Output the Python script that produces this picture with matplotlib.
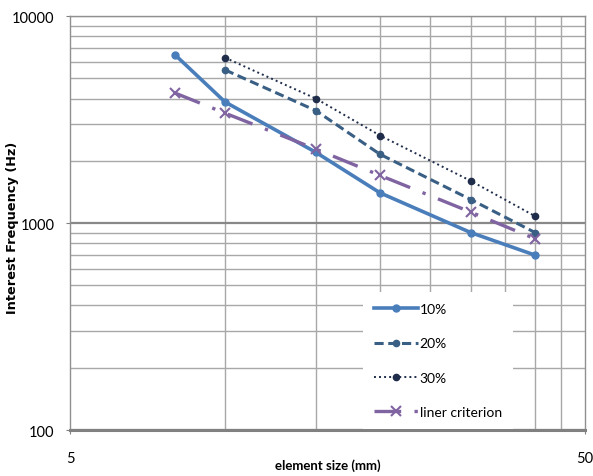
import numpy as np
import matplotlib
matplotlib.use("Agg")
import matplotlib.pyplot as plt
from matplotlib.ticker import FixedLocator, NullFormatter, LogLocator

# element size (mm)
size_a = [8, 10, 15, 20, 30, 40]
size_b = [10, 15, 20, 30, 40]

f10 = [6500, 3850, 2200, 1400, 900, 700]
f20 = [5500, 3500, 2150, 1300, 900]
f30 = [6300, 4000, 2650, 1600, 1080]
liner = [4250, 3400, 2280, 1700, 1130, 840]

xgrid = [10, 15, 20, 25, 30, 35, 40, 45]

fig = plt.figure(figsize=(5.93, 4.77), dpi=100)
ax = fig.add_axes([0.118, 0.0964, 0.8685, 0.8676])

ax.set_xscale("log")
ax.set_yscale("log")
ax.set_xlim(5, 50)
ax.set_ylim(100, 10000)

# grid
ax.xaxis.set_major_locator(FixedLocator([5, 50]))
ax.xaxis.set_minor_locator(FixedLocator(xgrid))
ax.xaxis.set_minor_formatter(NullFormatter())
ax.set_xticklabels(["5", "50"])
ax.yaxis.set_major_locator(FixedLocator([100, 1000, 10000]))
ax.yaxis.set_minor_locator(LogLocator(base=10, subs=np.arange(2, 10)))
ax.yaxis.set_minor_formatter(NullFormatter())
ax.set_yticklabels(["100", "1000", "10000"])
ax.grid(True, which="minor", color="#a8a8a8", lw=1.0)
ax.grid(True, which="major", axis="y", color="#888888", lw=1.6)
ax.set_axisbelow(True)

for s in ["left", "right", "top"]:
    ax.spines[s].set_color("#909090")
    ax.spines[s].set_linewidth(1.0)
ax.spines["bottom"].set_color("#808080")
ax.spines["bottom"].set_linewidth(2.2)
ax.tick_params(which="both", length=3, color="#808080", labelsize=10.5)
ax.tick_params(axis="y", pad=8)
ax.tick_params(axis="x", pad=12)
ax.tick_params(which="minor", length=0)
for lab in ax.get_xticklabels() + ax.get_yticklabels():
    lab.set_family("Lato")

ax.plot(size_a, f10, color="#4a7ebb", lw=2.6, marker="o", ms=5, label="10%")
ax.plot(size_b, f20, color="#3a5f85", lw=2.2, ls=(0, (3, 1.5)), marker="o", ms=4.5, label="20%")
ax.plot(size_b, f30, color="#1f2d4a", lw=1.4, ls=(0, (1, 1.6)), marker="o", ms=4.5, label="30%")
ax.plot(size_a, liner, color="#8064a2", lw=2.4, ls=(0, (8, 4, 1, 4)), marker="x", ms=7, mew=1.5,
        label="liner criterion")

leg = ax.legend(loc="upper left", bbox_to_anchor=(0.555, 0.35), frameon=True, fancybox=False,
                framealpha=1, edgecolor="none", facecolor="white", labelspacing=1.6,
                handlelength=3.2, handletextpad=0.1, borderpad=0.8, borderaxespad=0.5,
                prop={"family": "Lato", "size": 10})

ax.set_xlabel("element size (mm)", fontsize=9.5, fontweight="bold", family="Lato")
ax.xaxis.set_label_coords(0.5, -0.068)
ax.set_ylabel("Interest Frequency (Hz)", fontsize=9.3, fontweight="bold", family="DejaVu Sans")
ax.yaxis.set_label_coords(-0.099, 0.49)

fig.savefig("out.png", dpi=100)
